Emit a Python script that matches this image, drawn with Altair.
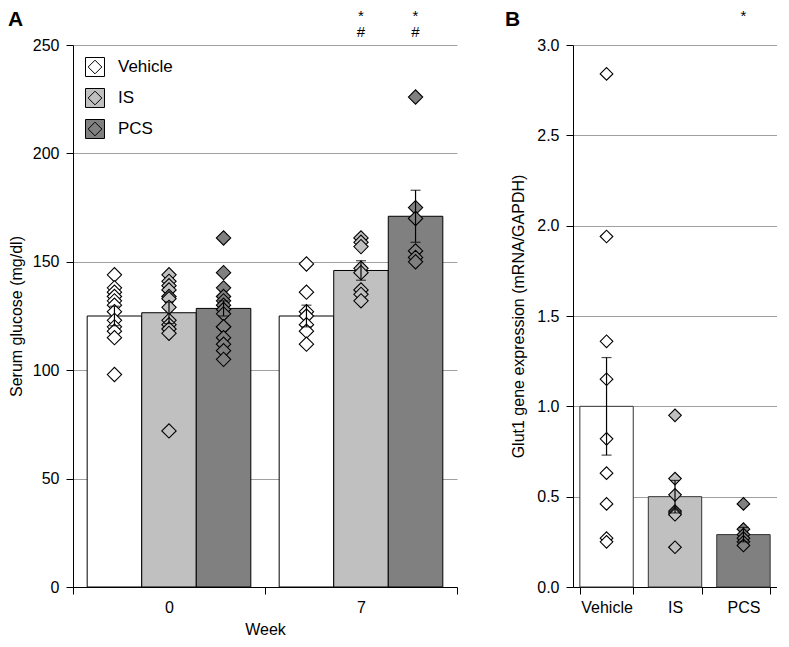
import altair as alt
import pandas as pd

groups = ["Vehicle", "IS", "PCS"]
weeks = ["0", "7"]
colors = ["#ffffff", "#c0c0c0", "#808080"]

# Panel A: serum glucose (mg/dl), individual animals
glu_w0_vehicle = [144, 138, 136, 134, 132, 130, 127, 123, 120, 118, 115, 98]
glu_w0_is = [144, 141, 139, 137, 134, 133, 129, 123, 121, 119, 117, 72]
glu_w0_pcs = [161, 145, 138, 134, 132, 130, 128, 126, 120, 120, 115, 112, 109, 105]
glu_w7_vehicle = [149, 136, 127, 125, 121, 118, 112]
glu_w7_is = [161, 159, 157, 147, 145, 137, 135, 132]
glu_w7_pcs = [226, 175, 170, 155, 152, 150]

bar_week = ["0", "0", "0", "7", "7", "7"]
bar_group = ["Vehicle", "IS", "PCS", "Vehicle", "IS", "PCS"]
bar_mean = [125, 126.5, 128.5, 125, 146, 171]
bar_sem = [4.5, 5, 3.5, 5, 4.5, 12]

sig_week = ["7", "7", "7", "7"]
sig_group = ["IS", "IS", "PCS", "PCS"]
sig_label = ["*", "#", "*", "#"]
sig_y = [263.4, 256, 263.4, 256]

# Panel B: Glut1 gene expression (mRNA/GAPDH)
glut_vehicle = [2.84, 1.94, 1.36, 1.15, 0.82, 0.63, 0.46, 0.27, 0.25]
glut_is = [0.95, 0.60, 0.51, 0.42, 0.41, 0.40, 0.22]
glut_pcs = [0.46, 0.32, 0.29, 0.27, 0.25, 0.23]
glut_mean = [1.0, 0.5, 0.29]
glut_sem = [0.27, 0.09, 0.04]
glut_sig_group = ["PCS"]
glut_sig_label = ["*"]
glut_sig_y = [3.16]

FONT = "Liberation Sans"

# ---------- tables ----------
pts_a = []
for wk, grp, vals in [("0", "Vehicle", glu_w0_vehicle), ("0", "IS", glu_w0_is), ("0", "PCS", glu_w0_pcs),
                      ("7", "Vehicle", glu_w7_vehicle), ("7", "IS", glu_w7_is), ("7", "PCS", glu_w7_pcs)]:
    for v in vals:
        pts_a.append({"week": wk, "group": grp, "value": v})
pts_a = pd.DataFrame(pts_a)

bars_a = pd.DataFrame({"week": bar_week, "group": bar_group, "mean": bar_mean, "sem": bar_sem})
bars_a["lo"] = bars_a["mean"] - bars_a["sem"]
bars_a["hi"] = bars_a["mean"] + bars_a["sem"]

sig_a = pd.DataFrame({"week": sig_week, "group": sig_group, "label": sig_label, "y": sig_y})

pts_b = []
for grp, vals in [("Vehicle", glut_vehicle), ("IS", glut_is), ("PCS", glut_pcs)]:
    for v in vals:
        pts_b.append({"group": grp, "value": v})
pts_b = pd.DataFrame(pts_b)
bars_b = pd.DataFrame({"group": groups, "mean": glut_mean, "sem": glut_sem})
bars_b["lo"] = bars_b["mean"] - bars_b["sem"]
bars_b["hi"] = bars_b["mean"] + bars_b["sem"]
sig_b = pd.DataFrame({"group": glut_sig_group, "label": glut_sig_label, "y": glut_sig_y})

# ---------- panel A ----------
def xA():
    return alt.X("week:N", sort=weeks,
                 scale=alt.Scale(paddingInner=0, paddingOuter=0),
                 axis=alt.Axis(title="Week", labelAngle=0, tickBand="extent",
                               tickSize=7, labelPadding=5, titlePadding=6))

def xoA():
    return alt.XOffset("group:N", sort=groups,
                       scale=alt.Scale(paddingInner=0, paddingOuter=0.26))

def yA(field):
    return alt.Y(field, scale=alt.Scale(domain=[0, 250]),
                 axis=alt.Axis(title="Serum glucose (mg/dl)", values=[0, 50, 100, 150, 200, 250],
                               grid=True, gridColor="#a0a0a0", tickSize=7, labelPadding=7,
                               titlePadding=8))

LEGEND = alt.Legend(title=None, orient="top-left", offset=12, padding=0,
                    symbolType="M-1,-1L1,-1L1,1L-1,1Z M0,-0.72L0.72,0L0,0.72L-0.72,0Z",
                    symbolSize=360, symbolStrokeColor="#000",
                    symbolStrokeWidth=1, labelFontSize=17,
                    labelOffset=13, rowPadding=7, labelColor="#000")

def fillA():
    return alt.Fill("group:N", sort=groups, scale=alt.Scale(domain=groups, range=colors),
                    legend=LEGEND)

bA = alt.Chart(bars_a).mark_bar(stroke="#000", strokeWidth=1).encode(
    x=xA(), xOffset=xoA(), y=yA("mean:Q"), fill=fillA())
pA = alt.Chart(pts_a).mark_point(shape="diamond", filled=True, size=205, stroke="#000",
                                 strokeWidth=1.1, opacity=1).encode(
    x=xA(), xOffset=xoA(), y=yA("value:Q"), fill=fillA())
eA = alt.Chart(bars_a).mark_rule(color="#000", strokeWidth=1.2).encode(
    x=xA(), xOffset=xoA(), y=yA("lo:Q"), y2="hi:Q")
cA1 = alt.Chart(bars_a).mark_tick(color="#000", size=10, thickness=1.2, orient="horizontal").encode(
    x=xA(), xOffset=xoA(), y=yA("lo:Q"))
cA2 = alt.Chart(bars_a).mark_tick(color="#000", size=10, thickness=1.2, orient="horizontal").encode(
    x=xA(), xOffset=xoA(), y=yA("hi:Q"))
sA = alt.Chart(sig_a).mark_text(fontSize=15, color="#000", baseline="middle", font=FONT).encode(
    x=xA(), xOffset=xoA(), y=yA("y:Q"), text="label:N")
tA = alt.Chart(pd.DataFrame({"t": ["A"]})).mark_text(
    fontSize=21, fontWeight="bold", align="left", baseline="top", color="#000", font=FONT
).encode(x=alt.value(-65), y=alt.value(-36), text="t:N")

chartA = alt.layer(bA, pA, eA, cA1, cA2, sA, tA).properties(width=384, height=542)

# ---------- panel B ----------
def xB():
    return alt.X("group:N", sort=groups,
                 scale=alt.Scale(paddingInner=0.22, paddingOuter=0.1),
                 axis=alt.Axis(title=None, labelAngle=0, tickBand="extent",
                               tickSize=7, labelPadding=5))

def yB(field):
    return alt.Y(field, scale=alt.Scale(domain=[0, 3]),
                 axis=alt.Axis(title="Glut1 gene expression (mRNA/GAPDH)",
                               values=[0, 0.5, 1, 1.5, 2, 2.5, 3], format=".1f",
                               grid=True, gridColor="#a0a0a0", tickSize=7, labelPadding=7,
                               titlePadding=10))

fillB = alt.Fill("group:N", sort=groups, scale=alt.Scale(domain=groups, range=colors), legend=None)

bB = alt.Chart(bars_b).mark_bar(stroke="#333", strokeWidth=1).encode(
    x=xB(), y=yB("mean:Q"), fill=fillB)
pB = alt.Chart(pts_b).mark_point(shape="diamond", filled=True, size=160, stroke="#000",
                                 strokeWidth=1.1, opacity=1).encode(
    x=xB(), y=yB("value:Q"), fill=fillB)
eB = alt.Chart(bars_b).mark_rule(color="#000", strokeWidth=1.2).encode(
    x=xB(), y=yB("lo:Q"), y2="hi:Q")
cB1 = alt.Chart(bars_b).mark_tick(color="#000", size=10, thickness=1.2, orient="horizontal").encode(
    x=xB(), y=yB("lo:Q"))
cB2 = alt.Chart(bars_b).mark_tick(color="#000", size=10, thickness=1.2, orient="horizontal").encode(
    x=xB(), y=yB("hi:Q"))
sB = alt.Chart(sig_b).mark_text(fontSize=15, color="#000", baseline="middle", font=FONT).encode(
    x=xB(), y=yB("y:Q"), text="label:N")
tB = alt.Chart(pd.DataFrame({"t": ["B"]})).mark_text(
    fontSize=21, fontWeight="bold", align="left", baseline="top", color="#000", font=FONT
).encode(x=alt.value(-68), y=alt.value(-36), text="t:N")

chartB = alt.layer(bB, pB, eB, cB1, cB2, sB, tB).properties(width=204, height=542)

chart = alt.hconcat(chartA, chartB, spacing=116, bounds="flush").properties(
    padding=0
).configure(font=FONT).configure_view(stroke=None).configure_axis(
    labelFont=FONT, titleFont=FONT, labelFontSize=16, titleFontSize=16,
    titleFontWeight="normal", labelColor="#000", titleColor="#000",
    domainColor="#000", tickColor="#000", domainWidth=1, tickWidth=1
).configure_legend(labelFont=FONT)

chart.save("out.html", embed_options={"renderer": "svg", "actions": False})
